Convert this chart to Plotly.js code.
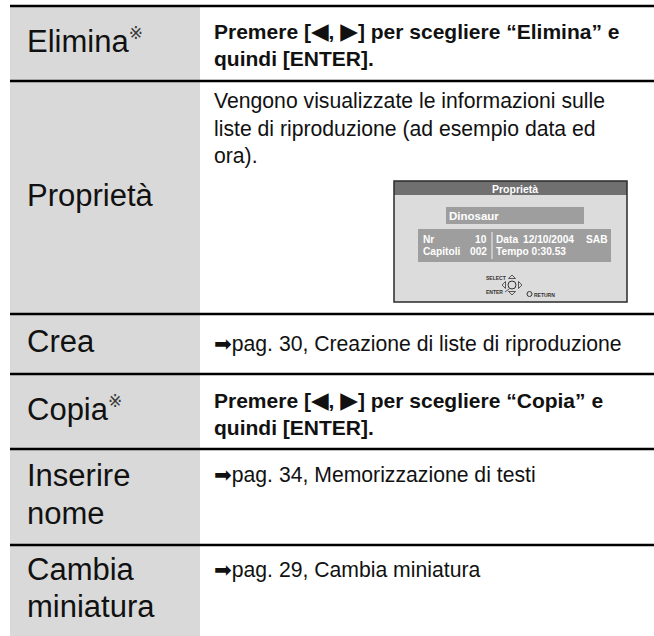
<!DOCTYPE html>
<html>
<head>
<meta charset="utf-8">
<script src="https://cdn.plot.ly/plotly-3.0.1.min.js"></script>
<style>html,body{margin:0;padding:0;background:#fff;}#chart{width:654px;height:636px;}</style>
</head>
<body>
<div id="chart"></div>
<script>
// ---- data (text content) ----
const rowLabels = ['Elimina', 'Proprietà', 'Crea', 'Copia', 'Inserire<br>nome', 'Cambia<br>miniatura'];
const rowMarked = [true, false, false, true, false, false];
const TRI_L = '<span style="font-family:DejaVu Sans;font-size:23px">◀</span>';
const TRI_R = '<span style="font-family:DejaVu Sans;font-size:23px">▶</span>';
const ARROW = '<span style="font-family:DejaVu Sans">➡</span>';
const rowDescriptions = [
  '<b>Premere [' + TRI_L + ', ' + TRI_R + '] per scegliere “Elimina” e<br>quindi [ENTER].</b>',
  'Vengono visualizzate le informazioni sulle<br>liste di riproduzione (ad esempio data ed<br>ora).',
  ARROW + 'pag. 30, Creazione di liste di riproduzione',
  '<b>Premere [' + TRI_L + ', ' + TRI_R + '] per scegliere “Copia” e<br>quindi [ENTER].</b>',
  ARROW + 'pag. 34, Memorizzazione di testi',
  ARROW + 'pag. 29, Cambia miniatura'
];
const rowDescBold = [true, false, false, true, false, false];
const insetTitle = 'Proprietà';
const insetName = 'Dinosaur';
const infoLeftLabels = ['Nr', 'Capitoli'];
const infoLeftValues = ['10', '002'];
const infoDataLabel = 'Data';
const infoDate = '12/10/2004';
const infoDay = 'SAB';
const infoTempoLabel = 'Tempo';
const infoTempo = '0:30.53';
const remoteLabels = ['SELECT', 'ENTER', 'RETURN'];

// ---- layout geometry (positions, not data) ----
const W = 654, H = 636;
const tableLeft = 10, colSplit = 200;
const rowEdges = [6, 81, 314, 374, 449, 545, 636];
const descY = [43.5, 128, 343.5, 413, 474, 569];
const FONT = 'Liberation Sans, Arial, Helvetica, sans-serif';
const ink = '#111111';

const shapes = [];
const annotations = [];

// left grey column
shapes.push({type:'rect', xref:'x', yref:'y', x0:tableLeft, x1:colSplit, y0:rowEdges[0], y1:rowEdges[rowEdges.length-1],
  fillcolor:'#d9d9d9', line:{width:0}, layer:'below'});
// horizontal rules
for (let i = 0; i < rowEdges.length - 1; i++) {
  shapes.push({type:'line', xref:'x', yref:'y', x0:tableLeft, x1:W, y0:rowEdges[i], y1:rowEdges[i],
    line:{color:'#000', width:2.6}});
}
// row labels + descriptions
const labelLineGap = 37.5;
rowLabels.forEach((lab, i) => {
  const yc = (rowEdges[i] + rowEdges[i+1]) / 2 - 2.5;
  const lines = lab.split('<br>');
  lines.forEach((ln, k) => {
    const y = yc + (k - (lines.length - 1) / 2) * labelLineGap;
    const txt = ln + (rowMarked[i] && k === lines.length - 1
      ? '<sup><span style="font-family:DejaVu Sans;font-size:17px;color:#3a3a3a">※</span></sup>' : '');
    annotations.push({xref:'x', yref:'y', x:25, y:y, xanchor:'left', yanchor:'middle', align:'left',
      showarrow:false, text:txt, font:{family:FONT, size:31, color:ink}});
  });
  annotations.push({xref:'x', yref:'y', x:212, y:descY[i], xanchor:'left', yanchor:'middle', align:'left',
    showarrow:false, text:rowDescriptions[i], font:{family:FONT, size:rowDescBold[i] ? 21 : 21.2, color:ink}});
});

// ---- inset screen ----
const bx0 = 394, bx1 = 627, by0 = 181, by1 = 302;
shapes.push({type:'rect', xref:'x', yref:'y', x0:bx0, x1:bx1, y0:by0, y1:by1, fillcolor:'#dcdcdc', line:{width:0}});
shapes.push({type:'rect', xref:'x', yref:'y', x0:bx0, x1:bx1, y0:by0, y1:195, fillcolor:'#707070', line:{width:0}});
shapes.push({type:'rect', xref:'x', yref:'y', x0:bx0, x1:bx1, y0:by0, y1:by1, fillcolor:'rgba(0,0,0,0)', line:{color:'#2a2a2a', width:1.5}});
annotations.push({xref:'x', yref:'y', x:(bx0+bx1)/2 + 4, y:188.5, xanchor:'center', yanchor:'middle', showarrow:false,
  text:'<b>'+insetTitle+'</b>', font:{family:FONT, size:10.5, color:'#ffffff'}});
shapes.push({type:'rect', xref:'x', yref:'y', x0:446, x1:584, y0:207, y1:224, fillcolor:'#9e9e9e', line:{width:0}});
annotations.push({xref:'x', yref:'y', x:447, y:215.5, xanchor:'left', yanchor:'middle', showarrow:false,
  text:'<b>'+insetName+'</b>', font:{family:FONT, size:11.5, color:'#ffffff'}});
shapes.push({type:'rect', xref:'x', yref:'y', x0:418, x1:611, y0:229, y1:262, fillcolor:'#9e9e9e', line:{width:0}});
shapes.push({type:'line', xref:'x', yref:'y', x0:492, x1:492, y0:232, y1:259, line:{color:'#f2f2f2', width:1}});
const infoY = [239.5, 251.5];
const infoFont = {family:FONT, size:10.2, color:'#ffffff'};
function info(x, y, t, anchor) {
  annotations.push({xref:'x', yref:'y', x:x, y:y, xanchor:anchor || 'left', yanchor:'middle', showarrow:false,
    text:'<b>'+t+'</b>', font:infoFont});
}
infoLeftLabels.forEach((t, i) => {
  info(421, infoY[i], t);
  info(489, infoY[i], infoLeftValues[i], 'right');
});
info(494, infoY[0], infoDataLabel);
info(521, infoY[0], infoDate);
info(584, infoY[0], infoDay);
info(494, infoY[1], infoTempoLabel + ' ' + infoTempo);

// remote control glyph
const cx = 512, cy = 285;
const g = '#333333';
shapes.push({type:'circle', xref:'x', yref:'y', x0:cx-4, x1:cx+4, y0:cy-4, y1:cy+4, line:{color:g, width:1}, fillcolor:'rgba(0,0,0,0)'});
shapes.push({type:'path', xref:'x', yref:'y', path:`M ${cx-3.5} ${cy-6.5} L ${cx+3.5} ${cy-6.5} L ${cx} ${cy-10} Z`, line:{color:g, width:0.8}});
shapes.push({type:'path', xref:'x', yref:'y', path:`M ${cx-3.5} ${cy+6.5} L ${cx+3.5} ${cy+6.5} L ${cx} ${cy+10} Z`, line:{color:g, width:0.8}});
shapes.push({type:'path', xref:'x', yref:'y', path:`M ${cx-6.5} ${cy-3.5} L ${cx-6.5} ${cy+3.5} L ${cx-10} ${cy} Z`, line:{color:g, width:0.8}});
shapes.push({type:'path', xref:'x', yref:'y', path:`M ${cx+6.5} ${cy-3.5} L ${cx+6.5} ${cy+3.5} L ${cx+10} ${cy} Z`, line:{color:g, width:0.8}});
shapes.push({type:'line', xref:'x', yref:'y', x0:cx-7, x1:cx-3, y0:cy+7, y1:cy+4, line:{color:g, width:0.8}});
shapes.push({type:'circle', xref:'x', yref:'y', x0:527, x1:532, y0:291.5, y1:296.5, line:{color:g, width:1}, fillcolor:'rgba(0,0,0,0)'});
const tiny = {family:FONT, size:5, color:g};
annotations.push({xref:'x', yref:'y', x:508, y:278, xanchor:'right', yanchor:'middle', showarrow:false, text:'<b>'+remoteLabels[0]+'</b>', font:tiny});
annotations.push({xref:'x', yref:'y', x:505, y:291.5, xanchor:'right', yanchor:'middle', showarrow:false, text:'<b>'+remoteLabels[1]+'</b>', font:tiny});
annotations.push({xref:'x', yref:'y', x:532, y:294.5, xanchor:'left', yanchor:'middle', showarrow:false, text:'<b>'+remoteLabels[2]+'</b>', font:tiny});

const layout = {
  width: W, height: H,
  margin: {l:0, r:0, t:0, b:0, pad:0},
  paper_bgcolor: '#ffffff', plot_bgcolor: '#ffffff',
  showlegend: false,
  xaxis: {range:[0, W], visible:false, fixedrange:true},
  yaxis: {range:[H, 0], visible:false, fixedrange:true},
  shapes: shapes,
  annotations: annotations
};
Plotly.newPlot('chart', [], layout, {staticPlot:true, displayModeBar:false});
</script>
</body>
</html>
